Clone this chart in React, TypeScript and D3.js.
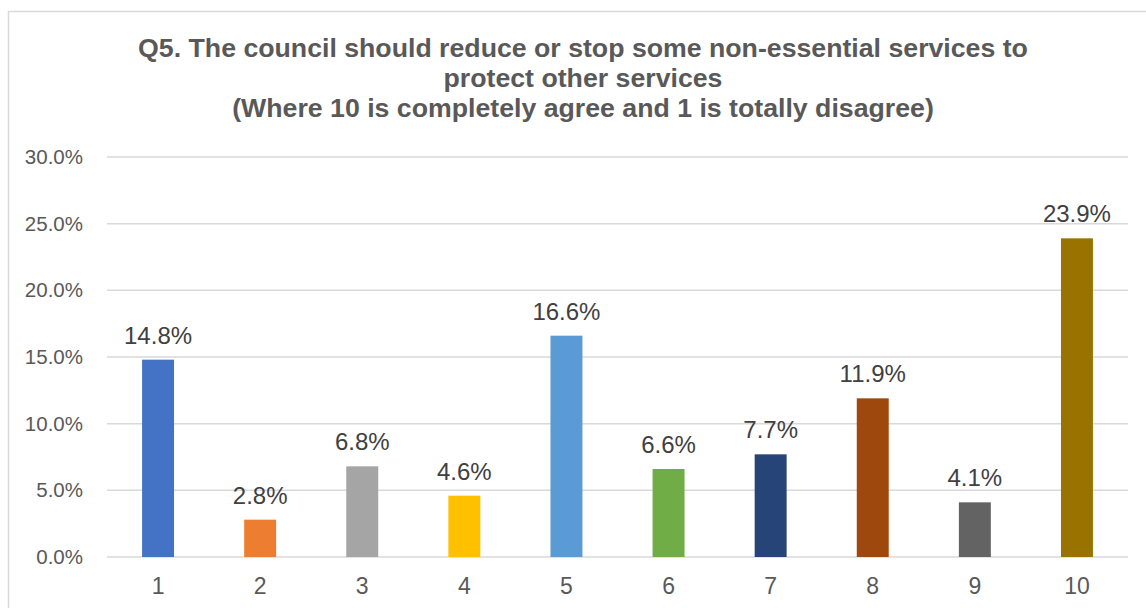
import React from "react";
import * as d3 from "d3";

const categories = ["1", "2", "3", "4", "5", "6", "7", "8", "9", "10"];
const values = [14.8, 2.8, 6.8, 4.6, 16.6, 6.6, 7.7, 11.9, 4.1, 23.9];
const colors = ["#4472C4", "#ED7D31", "#A5A5A5", "#FFC000", "#5B9BD5", "#70AD47", "#264478", "#9E480E", "#636363", "#997300"];
const yTicks = [0, 5, 10, 15, 20, 25, 30];
const titleLines = [
  "Q5. The council should reduce or stop some non-essential services to",
  "protect other services",
  "(Where 10 is completely agree and 1 is totally disagree)",
];

const W = 1146;
const H = 608;
const margin = { left: 107, right: 18, top: 157, bottom: 51 };

export default function App() {
  const x = d3
    .scaleBand<string>()
    .domain(categories)
    .range([margin.left, W - margin.right])
    .paddingInner(0.687)
    .paddingOuter(0.3435);
  const y = d3.scaleLinear().domain([0, 30]).range([H - margin.bottom, margin.top]);
  const font = "Arial, 'Liberation Sans', sans-serif";

  return (
    <svg
      width={W}
      height={H}
      style={{ position: "fixed", left: 0, top: 0, display: "block", background: "#fff" }}
    >
      <rect x={8.5} y={11.5} width={W + 20} height={H + 20} fill="#fff" stroke="#d9d9d9" strokeWidth={1.5} />
      {titleLines.map((t, i) => (
        <text
          key={i}
          x={583}
          y={57 + i * 30}
          textAnchor="middle"
          fontFamily={font}
          fontWeight="bold"
          fontSize={26.7}
          fill="#595959"
        >
          {t}
        </text>
      ))}
      {yTicks.map((t) => (
        <g key={t}>
          <line x1={margin.left} x2={W - margin.right} y1={y(t)} y2={y(t)} stroke="#d9d9d9" strokeWidth={1.5} />
          <text x={83} y={y(t) + 7} textAnchor="end" fontFamily={font} fontSize={20.5} fill="#595959">
            {t.toFixed(1) + "%"}
          </text>
        </g>
      ))}
      {categories.map((c, i) => (
        <g key={c}>
          <rect
            x={x(c)}
            y={y(values[i])}
            width={x.bandwidth()}
            height={y(0) - y(values[i])}
            fill={colors[i]}
          />
          <text
            x={(x(c) as number) + x.bandwidth() / 2}
            y={y(values[i]) - 16}
            textAnchor="middle"
            fontFamily={font}
            fontSize={24}
            fill="#404040"
          >
            {values[i].toFixed(1) + "%"}
          </text>
          <text
            x={(x(c) as number) + x.bandwidth() / 2}
            y={594}
            textAnchor="middle"
            fontFamily={font}
            fontSize={23}
            fill="#595959"
          >
            {c}
          </text>
        </g>
      ))}
    </svg>
  );
}
